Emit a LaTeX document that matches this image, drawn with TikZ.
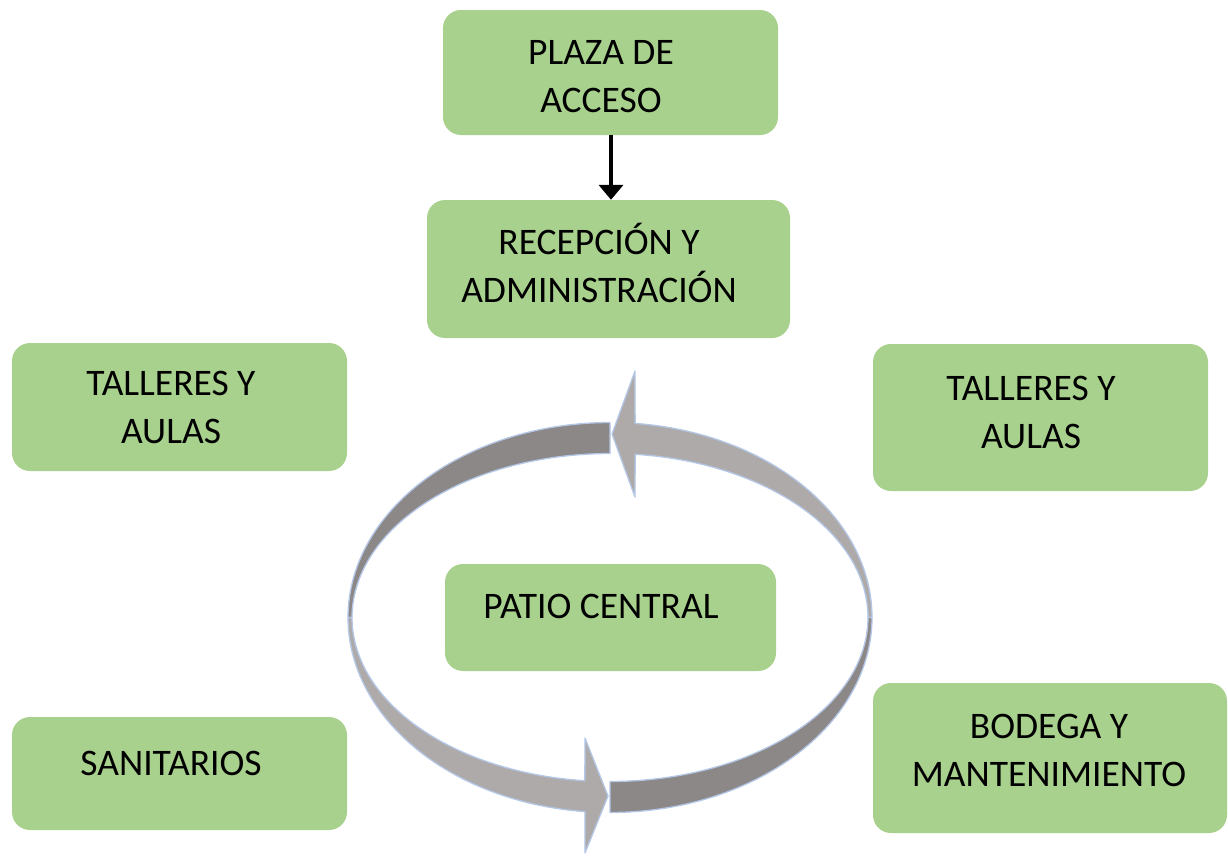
\documentclass[tikz,border=0pt]{standalone}
\usepackage{fontspec}
\setmainfont{Carlito}
\usetikzlibrary{arrows.meta}
\definecolor{boxgreen}{HTML}{A9D18E}
\definecolor{ringdark}{HTML}{8C8888}
\definecolor{ringlight}{HTML}{AEAAAA}
\definecolor{ringedge}{HTML}{B4C7E7}
\begin{document}
\begin{tikzpicture}[x=1pt,y=-1pt,
  box/.style={fill=boxgreen, rounded corners=18pt, inner sep=0pt},
  txt/.style={font=\fontsize{37.5}{48}\selectfont, align=center, anchor=base, inner sep=0pt, text=black},
  ringpart/.style={draw=ringedge, line width=1.3pt, line join=round},
  conn/.style={line width=3.8pt, -{Triangle[width=24pt,length=15pt]}}]
\useasboundingbox (0,0) rectangle (1228,860);

% ring: upper-left dark
\path[ringpart, fill=ringdark]
  plot[domain=90:180, samples=60] ({610+262*cos(\x)},{617.5-195*sin(\x)})
  -- plot[domain=180:90, samples=60] ({610+258*cos(\x)},{617.5-164*sin(\x)}) -- cycle;
% ring: upper-right light with head
\path[ringpart, fill=ringlight]
  plot[domain=0:84.5, samples=60] ({610+262*cos(\x)},{617.5-195*sin(\x)})
  -- (635,371) -- (612,434) -- (635,497)
  -- plot[domain=84.4:0, samples=60] ({610+258*cos(\x)},{617.5-164*sin(\x)}) -- cycle;
% ring: lower-left light with head
\path[ringpart, fill=ringlight]
  plot[domain=180:264.5, samples=60] ({610+262*cos(\x)},{617.5-195*sin(\x)})
  -- (585,853) -- (608,796) -- (585,738)
  -- plot[domain=264.4:180, samples=60] ({610+258*cos(\x)},{617.5-164*sin(\x)}) -- cycle;
% ring: lower-right dark
\path[ringpart, fill=ringdark]
  plot[domain=270:360, samples=60] ({610+262*cos(\x)},{617.5-195*sin(\x)})
  -- plot[domain=360:270, samples=60] ({610+258*cos(\x)},{617.5-164*sin(\x)}) -- cycle;

% boxes
\node[box, minimum width=335pt, minimum height=125pt] (plaza) at (610.5,72.5) {};
\node[box, minimum width=363pt, minimum height=138pt] (recep) at (608.5,269) {};
\node[box, minimum width=335pt, minimum height=128pt] (tallL) at (179.5,407) {};
\node[box, minimum width=335pt, minimum height=147pt] (tallR) at (1040.5,417.5) {};
\node[box, minimum width=331pt, minimum height=107pt] (patio) at (610.5,617.5) {};
\node[box, minimum width=335pt, minimum height=113pt] (sanit) at (179.5,773.5) {};
\node[box, minimum width=354pt, minimum height=150pt] (bodega) at (1050,758) {};

% texts (base anchor = baseline of last line)
\node[txt] (plazaT) at (601,112) {PLAZA DE\\ACCESO};
\node[txt] (recepT) at (599,302) {RECEPCIÓN Y\\ADMINISTRACIÓN};
\node[txt] (tallLT) at (171,443) {TALLERES Y\\AULAS};
\node[txt] (tallRT) at (1031,448) {TALLERES Y\\AULAS};
\node[txt] (patioT) at (601,618) {PATIO CENTRAL};
\node[txt] (sanitT) at (171,775) {SANITARIOS};
\node[txt] (bodegaT) at (1049,786) {BODEGA Y\\MANTENIMIENTO};

% connector
\draw[conn] (plaza.south -| 611,0) -- (recep.north -| 611,0);
\end{tikzpicture}
\end{document}
